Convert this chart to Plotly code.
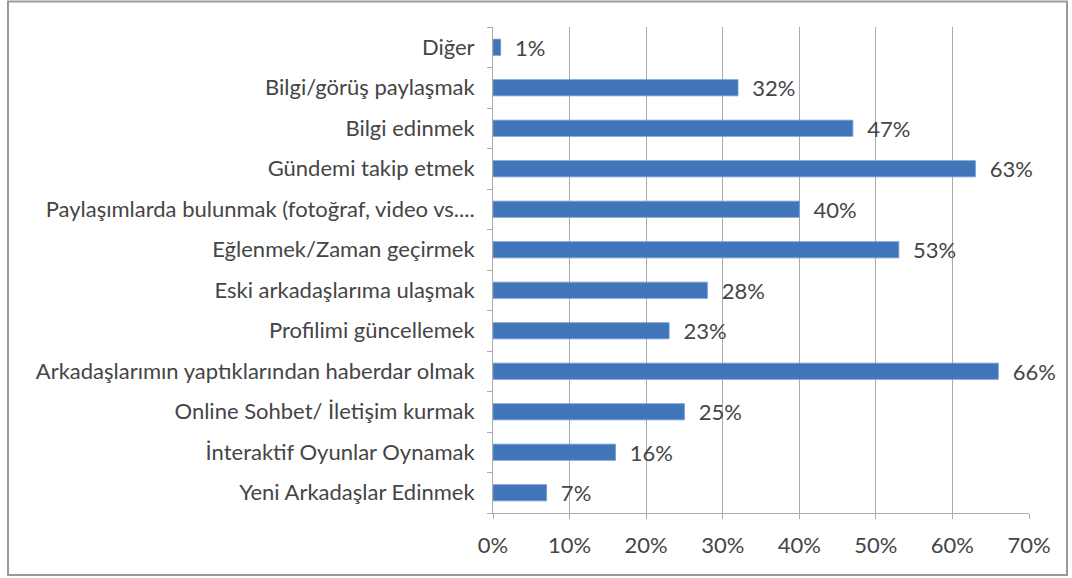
import plotly.graph_objects as go

categories = [
    "Yeni Arkadaşlar Edinmek",
    "İnteraktif Oyunlar Oynamak",
    "Online Sohbet/ İletişim kurmak",
    "Arkadaşlarımın yaptıklarından haberdar olmak",
    "Profilimi güncellemek",
    "Eski arkadaşlarıma ulaşmak",
    "Eğlenmek/Zaman geçirmek",
    "Paylaşımlarda bulunmak (fotoğraf, video vs....",
    "Gündemi takip etmek",
    "Bilgi edinmek",
    "Bilgi/görüş paylaşmak",
    "Diğer",
]
values = [0.07, 0.16, 0.25, 0.66, 0.23, 0.28, 0.53, 0.40, 0.63, 0.47, 0.32, 0.01]
x_ticks = [0, 0.1, 0.2, 0.3, 0.4, 0.5, 0.6, 0.7]
x_ticklabels = ["0%", "10%", "20%", "30%", "40%", "50%", "60%", "70%"]

W, H = 1072, 578
L, R, T, B = 493, 43, 27, 65
pw, ph = W - L - R, H - T - B

FONT = "Lato"
TXT = "#454545"
FS = 22

fig = go.Figure(go.Bar(
    y=categories, x=values, orientation="h",
    marker=dict(color="#4175B9", line=dict(color="#6E9BD2", width=0.8)),
    width=0.4,
    texttemplate="  %{x:.0%}", textposition="outside",
    textfont=dict(family=FONT, size=FS, color=TXT),
    constraintext="none",
    cliponaxis=False,
    hoverinfo="skip",
))

def px2x(p):
    return (p - L) / pw

def py2y(p):
    return (H - B - p) / ph

fig.update_layout(
    width=W, height=H,
    margin=dict(l=L, r=R, t=T, b=B),
    paper_bgcolor="white", plot_bgcolor="white",
    showlegend=False,
    font=dict(family=FONT, size=FS, color=TXT),
    xaxis=dict(
        range=[0, 0.7], tickvals=x_ticks, ticktext=x_ticklabels,
        showgrid=True, gridcolor="#ABABAB", gridwidth=1,
        showline=True, linecolor="#ABABAB", linewidth=1,
        ticks="outside", ticklen=5, tickcolor="#ABABAB",
        ticklabelstandoff=8,
        zeroline=False, fixedrange=True,
        tickfont=dict(family=FONT, size=FS, color=TXT),
    ),
    yaxis=dict(
        categoryorder="array", categoryarray=categories,
        showgrid=False, showline=True, linecolor="#ABABAB", linewidth=1,
        ticks="outside", tickson="boundaries", ticklen=5, tickcolor="#ABABAB",
        ticklabelstandoff=13,
        tickfont=dict(family=FONT, size=FS, color=TXT),
        fixedrange=True,
    ),
    shapes=[
        dict(type="rect", xref="paper", yref="paper",
             x0=px2x(8), x1=px2x(1067), y0=py2y(575), y1=py2y(1.5),
             line=dict(color="#999999", width=2), fillcolor="rgba(0,0,0,0)", layer="below"),
    ],
)

fig.write_html("out.html", config={"displayModeBar": False},
               post_script="document.body.style.margin='0';")
